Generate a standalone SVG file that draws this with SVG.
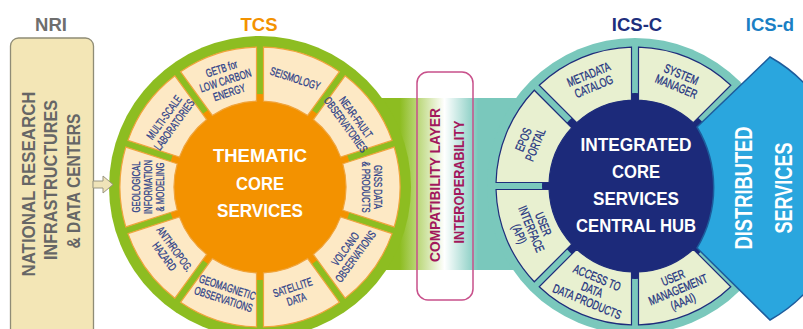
<svg xmlns="http://www.w3.org/2000/svg" width="803" height="329" viewBox="0 0 803 329">
<defs>
<linearGradient id="band" gradientUnits="userSpaceOnUse" x1="400" y1="0" x2="478" y2="0">
<stop offset="0" stop-color="#8dbd21"/>
<stop offset="0.57" stop-color="#ffffff"/>
<stop offset="1" stop-color="#7ac8bc"/>
</linearGradient>
<path id="tseg" d="M -39.92,-134.19 A 140 140 0 0 1 39.92,-134.19 L 23.22,-82.8 A 86 86 0 0 0 -23.22,-82.8 Z"/>
<path id="iseg" d="M -49.94,-129.72 A 139 139 0 0 1 49.94,-129.72 L 29.65,-80.73 A 86 86 0 0 0 -29.65,-80.73 Z"/>
</defs>
<style>
text{font-family:'Liberation Sans',Arial,sans-serif;text-anchor:middle}
.lbl{font-size:18.5px;font-weight:bold}
.tseg{fill:#fde9c5;stroke:#f0a43c;stroke-width:1.2}
.iseg{fill:#e8f0d0;stroke:#1f2d7b;stroke-width:1.2}
.tt{font-size:11.5px;fill:#2d4189;stroke:#2d4189;stroke-width:0.3}
.it{font-size:12.5px;fill:#22327f;stroke:#22327f;stroke-width:0.3}
.ctr{font-size:19px;font-weight:bold;fill:#ffffff}
.nri{font-size:17.5px;font-weight:bold;fill:#666666}
.cmp{font-size:15px;font-weight:bold;fill:#a2185c}
.dst{font-size:24px;font-weight:bold;fill:#ffffff}
</style>
<rect width="803" height="329" fill="#ffffff"/>

<g id="labels">
<text class="lbl" x="51" y="31" fill="#6e6e6e">NRI</text>
<text class="lbl" x="259" y="31" fill="#f39200">TCS</text>
<text class="lbl" x="637" y="31" fill="#1e2f7d">ICS-C</text>
<text class="lbl" x="770" y="31" fill="#1a80c4">ICS-d</text>
</g>

<g id="band-layer">
<rect x="330" y="98" width="230" height="172" fill="url(#band)"/>
</g>

<g id="nri">
<rect x="10.5" y="38" width="83" height="300" rx="8" fill="#f3e6b6" stroke="#8f8c76" stroke-width="1.3"/>
<text class="nri" transform="translate(34.5 184) rotate(-90)" textLength="185" lengthAdjust="spacingAndGlyphs">NATIONAL RESEARCH</text>
<text class="nri" transform="translate(57 180) rotate(-90)" textLength="160" lengthAdjust="spacingAndGlyphs">INFRASTRUCTURES</text>
<text class="nri" transform="translate(79.5 181) rotate(-90)" textLength="135" lengthAdjust="spacingAndGlyphs">&amp; DATA CENTERS</text>
</g>

<g id="tcs">
<circle cx="260" cy="187" r="151" fill="#8dbd21"/>
<circle cx="260" cy="187" r="93" fill="#f39200"/>
<g class="tseg" transform="translate(260 187)">
<use href="#tseg" transform="rotate(18)"/>
<use href="#tseg" transform="rotate(54)"/>
<use href="#tseg" transform="rotate(90)"/>
<use href="#tseg" transform="rotate(126)"/>
<use href="#tseg" transform="rotate(162)"/>
<use href="#tseg" transform="rotate(198)"/>
<use href="#tseg" transform="rotate(234)"/>
<use href="#tseg" transform="rotate(270)"/>
<use href="#tseg" transform="rotate(306)"/>
<use href="#tseg" transform="rotate(342)"/>
</g>
<g id="tcs-getb" transform="translate(260 187) rotate(342) translate(0 -112) scale(0.68 1)"><text class="tt"><tspan x="0" y="-8.5">GETB for</tspan><tspan x="0" y="4">LOW CARBON</tspan><tspan x="0" y="16.5">ENERGY</tspan></text></g>
<g id="tcs-seis" transform="translate(260 187) rotate(18) translate(0 -114) scale(0.68 1)"><text class="tt"><tspan x="0" y="4">SEISMOLOGY</tspan></text></g>
<g id="tcs-near" transform="translate(260 187) rotate(54) translate(0 -112) scale(0.68 1)"><text class="tt"><tspan x="0" y="-2.5">NEAR-FAULT</tspan><tspan x="0" y="10">OBSERVATORIES</tspan></text></g>
<g id="tcs-gnss" transform="translate(260 187) rotate(90) translate(0 -112) scale(0.68 1)"><text class="tt"><tspan x="0" y="-2.5">GNSS DATA</tspan><tspan x="0" y="10">&amp; PRODUCTS</tspan></text></g>
<g id="tcs-volc" transform="translate(260 187) rotate(126) translate(0 -112) rotate(180) scale(0.68 1)"><text class="tt"><tspan x="0" y="-2.5">VOLCANO</tspan><tspan x="0" y="10">OBSERVATIONS</tspan></text></g>
<g id="tcs-sat" transform="translate(260 187) rotate(162) translate(0 -112) rotate(180) scale(0.68 1)"><text class="tt"><tspan x="0" y="-2.5">SATELLITE</tspan><tspan x="0" y="10">DATA</tspan></text></g>
<g id="tcs-geomag" transform="translate(260 187) rotate(198) translate(0 -112) rotate(180) scale(0.68 1)"><text class="tt"><tspan x="0" y="-2.5">GEOMAGNETIC</tspan><tspan x="0" y="10">OBSERVATIONS</tspan></text></g>
<g id="tcs-anth" transform="translate(260 187) rotate(234) translate(0 -112) rotate(180) scale(0.68 1)"><text class="tt"><tspan x="0" y="-2.5">ANTHROPOG.</tspan><tspan x="0" y="10">HAZARD</tspan></text></g>
<g id="tcs-geol" transform="translate(260 187) rotate(270) translate(0 -112) scale(0.68 1)"><text class="tt"><tspan x="0" y="-8.5">GEOLOGICAL</tspan><tspan x="0" y="4">INFORMATION</tspan><tspan x="0" y="16.5">&amp; MODELING</tspan></text></g>
<g id="tcs-multi" transform="translate(260 187) rotate(306) translate(0 -112) scale(0.68 1)"><text class="tt"><tspan x="0" y="-2.5">MULTI-SCALE</tspan><tspan x="0" y="10">LABORATORIES</tspan></text></g>
<text class="ctr" x="260" y="162" textLength="94" lengthAdjust="spacingAndGlyphs">THEMATIC</text>
<text class="ctr" x="260" y="189.5" textLength="48" lengthAdjust="spacingAndGlyphs">CORE</text>
<text class="ctr" x="260" y="217" textLength="86" lengthAdjust="spacingAndGlyphs">SERVICES</text>
</g>

<g id="compat">
<rect x="417" y="72" width="56" height="228" rx="11" fill="none" stroke="#c8508b" stroke-width="1.5"/>
<text class="cmp" transform="translate(440 185) rotate(-90)" textLength="154" lengthAdjust="spacingAndGlyphs">COMPATIBILITY LAYER</text>
<text class="cmp" transform="translate(463.5 182) rotate(-90)" textLength="123" lengthAdjust="spacingAndGlyphs">INTEROPERABILITY</text>
</g>

<g id="ics-c">
<circle cx="635" cy="186" r="148" fill="#7ac8bc"/>
<circle cx="635" cy="186" r="93" fill="#1c2a7a"/>
<g class="iseg" transform="translate(635 186)">
<use href="#iseg" transform="rotate(22.5)"/>
<use href="#iseg" transform="rotate(157.5)"/>
<use href="#iseg" transform="rotate(202.5)"/>
<use href="#iseg" transform="rotate(247.5)"/>
<use href="#iseg" transform="rotate(292.5)"/>
<use href="#iseg" transform="rotate(337.5)"/>
</g>
<g id="ics-meta" transform="translate(635 186) rotate(337.5) translate(0 -114) scale(0.7 1)"><text class="it"><tspan x="0" y="-2.5">METADATA</tspan><tspan x="0" y="10.5">CATALOG</tspan></text></g>
<g id="ics-sys" transform="translate(635 186) rotate(22.5) translate(0 -114) scale(0.7 1)"><text class="it"><tspan x="0" y="-2.5">SYSTEM</tspan><tspan x="0" y="10.5">MANAGER</tspan></text></g>
<g id="ics-um" transform="translate(635 186) rotate(157.5) translate(0 -112) rotate(180) scale(0.7 1)"><text class="it"><tspan x="0" y="-8.5">USER</tspan><tspan x="0" y="4.5">MANAGEMENT</tspan><tspan x="0" y="17.5">(AAAI)</tspan></text></g>
<g id="ics-acc" transform="translate(635 186) rotate(202.5) translate(0 -112) rotate(180) scale(0.7 1)"><text class="it"><tspan x="0" y="-8.5">ACCESS TO</tspan><tspan x="0" y="4.5">DATA</tspan><tspan x="0" y="17.5">DATA PRODUCTS</tspan></text></g>
<g id="ics-ui" transform="translate(635 186) rotate(247.5) translate(0 -112) rotate(180) scale(0.7 1)"><text class="it"><tspan x="0" y="-8.5">USER</tspan><tspan x="0" y="4.5">INTERFACE</tspan><tspan x="0" y="17.5">(API)</tspan></text></g>
<g id="ics-epos" transform="translate(635 186) rotate(292.5) translate(0 -114) scale(0.7 1)"><text class="it"><tspan x="0" y="-2.5">EPOS</tspan><tspan x="0" y="10.5">PORTAL</tspan></text></g>
<text class="ctr" x="636" y="151" textLength="111" lengthAdjust="spacingAndGlyphs">INTEGRATED</text>
<text class="ctr" x="636" y="178" textLength="48" lengthAdjust="spacingAndGlyphs">CORE</text>
<text class="ctr" x="636" y="205" textLength="86" lengthAdjust="spacingAndGlyphs">SERVICES</text>
<text class="ctr" x="636" y="232" textLength="120" lengthAdjust="spacingAndGlyphs">CENTRAL HUB</text>
</g>

<g id="ics-d">
<path d="M 697,127 L 770,57 A 151 151 0 0 1 770,320 L 697,248 A 118 118 0 0 0 697,127 Z" fill="#2aa6de" stroke="#1d5c9c" stroke-width="1.5"/>
<text class="dst" transform="translate(752 188) rotate(-90)" textLength="123" lengthAdjust="spacingAndGlyphs">DISTRIBUTED</text>
<text class="dst" transform="translate(792 188) rotate(-90)" textLength="91" lengthAdjust="spacingAndGlyphs">SERVICES</text>
</g>

<g id="connectors">
<polygon points="93,181 103,181 103,176 113,184.5 103,193 103,188 93,188" fill="#efe3b8" stroke="#9a9680" stroke-width="1"/>
</g>
</svg>
